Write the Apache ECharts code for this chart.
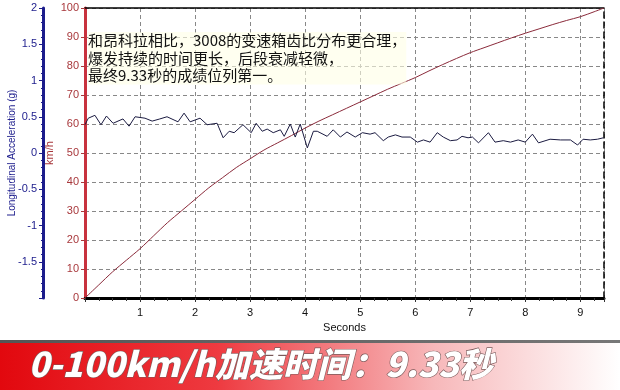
<!DOCTYPE html>
<html lang="zh">
<head>
  <meta charset="UTF-8">
  <title>0-100km/h</title>
  <style>
    * { padding: 0; margin: 0; }
    body { background: #fff; }
    #charts { width: 620px; height: 390px; }
  </style>
</head>
<body>
  <div id="charts"></div>
<script src="https://cdn.jsdelivr.net/npm/echarts@6/dist/echarts.min.js"></script>
<script type="text/javascript">
  // speed curve (km/h) against seconds
  var speedTime = [0, 0.25, 0.5, 0.75, 1, 1.25, 1.5, 1.75, 2, 2.25, 2.5, 2.75, 3, 3.25, 3.5, 3.75, 4, 4.25, 4.5, 4.75,
    5, 5.25, 5.5, 5.75, 6, 6.25, 6.5, 6.75, 7, 7.25, 7.5, 7.75, 8, 8.25, 8.5, 8.75, 9, 9.25, 9.43]
  var speedKmh = [0, 4.5, 9, 13, 17, 21.5, 26, 30, 34, 38, 41.5, 45, 48, 51, 53.5, 56, 58.6, 61, 63.2, 65.4,
    67.6, 69.8, 72, 74, 76, 78.3, 80.5, 82.6, 84.6, 86.3, 88, 89.7, 91.3, 92.8, 94.3, 95.7, 97, 98.7, 100]

  // longitudinal acceleration (g) against seconds
  var accTime = [0, 0.06, 0.18, 0.29, 0.39, 0.51, 0.69, 0.80, 0.91, 1.09, 1.22, 1.36, 1.49, 1.69, 1.80, 1.91,
    2.09, 2.22, 2.40, 2.51, 2.62, 2.71, 2.87, 3.02, 3.11, 3.22, 3.31, 3.42, 3.55, 3.62, 3.73, 3.82, 3.91,
    4.04, 4.15, 4.22, 4.40, 4.51, 4.64, 4.76, 4.91, 5.04, 5.18, 5.27, 5.42, 5.51, 5.64, 5.76, 5.91,
    6.04, 6.15, 6.27, 6.40, 6.51, 6.64, 6.76, 6.85, 6.96, 7.04, 7.15, 7.33, 7.45, 7.60, 7.73, 7.87,
    8.00, 8.13, 8.24, 8.45, 8.64, 8.82, 8.95, 9.05, 9.18, 9.31, 9.42]
  var accG = [0.39, 0.48, 0.52, 0.39, 0.51, 0.41, 0.47, 0.37, 0.50, 0.48, 0.44, 0.47, 0.50, 0.43, 0.55, 0.43,
    0.48, 0.39, 0.41, 0.21, 0.30, 0.28, 0.39, 0.28, 0.41, 0.30, 0.33, 0.28, 0.32, 0.23, 0.40, 0.22, 0.40,
    0.07, 0.30, 0.30, 0.23, 0.32, 0.22, 0.29, 0.22, 0.28, 0.26, 0.28, 0.17, 0.22, 0.25, 0.22,
    0.22, 0.15, 0.18, 0.15, 0.28, 0.22, 0.17, 0.18, 0.23, 0.21, 0.22, 0.14, 0.28, 0.15, 0.17, 0.15,
    0.18, 0.15, 0.26, 0.14, 0.19, 0.18, 0.18, 0.11, 0.19, 0.18, 0.19, 0.21]

  var xLabels = [1, 2, 3, 4, 5, 6, 7, 8, 9]
  var noteLines = ['和昂科拉相比，3008的变速箱齿比分布更合理，', '爆发持续的时间更长，后段衰减轻微，', '最终9.33秒的成绩位列第一。']
  var bannerText = '0-100km/h加速时间：9.33秒'

  var myChart = echarts.init(document.getElementById('charts'))

  function pairs(xs, ys) {
    var out = []
    for (var i = 0; i < xs.length; i++) out.push([xs[i], ys[i]])
    return out
  }

  var navy = '#1c1c8c'
  var brick = '#a8383c'
  var font = 'Liberation Sans, Arial, sans-serif'

  var option = {
    animation: false,
    grid: { left: 85, right: 16, top: 8, bottom: 92, outerBoundsMode: 'none' },
    xAxis: [{
      type: 'value', min: 0, max: 9.43, interval: 1,
      name: 'Seconds', nameLocation: 'middle', nameGap: 24, nameMoveOverlap: false,
      nameTextStyle: { color: '#111', fontSize: 11, fontFamily: font },
      axisLine: { onZero: false, lineStyle: { color: '#000', width: 3 } },
      axisTick: { lineStyle: { color: '#333' }, length: 4 },
      minorTick: { show: true, splitNumber: 4, length: 3, lineStyle: { color: '#333' } },
      axisLabel: {
        color: '#111', fontSize: 11, fontFamily: font, margin: 9, showMaxLabel: false,
        formatter: function (v) { return xLabels.indexOf(v) >= 0 ? String(v) : '' }
      },
      splitLine: { show: true, lineStyle: { color: '#888', type: [4, 3] } }
    }, {
      type: 'value', position: 'top', min: 0, max: 9.43,
      axisLine: { onZero: false, lineStyle: { color: '#000', width: 1.5 } },
      axisTick: { show: false }, axisLabel: { show: false }, splitLine: { show: false }
    }],
    yAxis: [{
      type: 'value', position: 'left', min: 0, max: 100, interval: 10,
      name: 'km/h', nameLocation: 'middle', nameGap: 30, nameMoveOverlap: false,
      nameTextStyle: { color: brick, fontSize: 11, fontFamily: font },
      axisLine: { show: true, onZero: false, lineStyle: { color: '#c8323e', width: 3 } },
      axisTick: { show: true, length: 4, lineStyle: { color: brick } },
      axisLabel: { color: brick, fontSize: 11, fontFamily: font, margin: 6 },
      splitLine: { show: true, lineStyle: { color: '#888', type: [4, 3] } }
    }, {
      type: 'value', position: 'left', offset: 42, min: -2, max: 2, interval: 0.5,
      name: 'Longitudinal Acceleration (g)', nameLocation: 'middle', nameGap: 26, nameMoveOverlap: false,
      nameTextStyle: { color: navy, fontSize: 10, fontFamily: font },
      axisLine: { show: true, onZero: false, lineStyle: { color: navy, width: 3 } },
      axisTick: { show: true, length: 4, lineStyle: { color: navy } },
      minorTick: { show: true, splitNumber: 5, length: 2, lineStyle: { color: navy } },
      axisLabel: {
        color: navy, fontSize: 11, fontFamily: font, margin: 6,
        formatter: function (v) { return v === -2 ? '' : String(v) }
      },
      splitLine: { show: false }
    }, {
      type: 'value', position: 'right', min: 0, max: 100,
      axisLine: { show: true, onZero: false, lineStyle: { color: '#000', width: 1.5, type: [6, 4] } },
      axisTick: { show: false }, axisLabel: { show: false }, splitLine: { show: false }
    }],
    series: [{
      name: 'speed', type: 'line', xAxisIndex: 0, yAxisIndex: 0,
      showSymbol: false, smooth: 0.3,
      lineStyle: { color: '#8a2a3a', width: 1 },
      data: pairs(speedTime, speedKmh)
    }, {
      name: 'acceleration', type: 'line', xAxisIndex: 0, yAxisIndex: 1,
      showSymbol: false,
      lineStyle: { color: '#1a1a40', width: 1 },
      data: pairs(accTime, accG)
    }],
    graphic: [{
      type: 'text', left: 88, top: 32, z: 10,
      style: {
        text: noteLines.join('\n'), fill: '#111', lineHeight: 17.5,
        font: '15px "Noto Sans CJK SC", sans-serif',
        backgroundColor: 'rgba(255,255,230,0.6)'
      }
    }, {
      type: 'rect', left: 0, top: 340, z: 5,
      shape: { width: 620, height: 50 },
      style: {
        fill: {
          type: 'linear', x: 0, y: 0, x2: 1, y2: 0,
          colorStops: [
            { offset: 0, color: '#e2080e' },
            { offset: 0.35, color: '#ee3a40' },
            { offset: 0.7, color: '#f7b8ba' },
            { offset: 1, color: '#ffffff' }
          ]
        }
      }
    }, {
      type: 'rect', left: 0, top: 340, z: 6,
      shape: { width: 620, height: 3 },
      style: {
        fill: {
          type: 'linear', x: 0, y: 0, x2: 1, y2: 0,
          colorStops: [
            { offset: 0, color: '#555' },
            { offset: 1, color: '#777' }
          ]
        }
      }
    }, {
      type: 'text', left: 28, top: 346, z: 7,
      style: {
        text: bannerText, fill: '#fff',
        font: 'italic 900 34px "Noto Sans CJK SC", sans-serif',
        stroke: '#7a5a5a', lineWidth: 1.2,
        shadowColor: 'rgba(60,0,0,0.7)', shadowBlur: 3, shadowOffsetX: 2, shadowOffsetY: 2
      }
    }]
  }
  myChart.setOption(option)
</script>
</body>
</html>
